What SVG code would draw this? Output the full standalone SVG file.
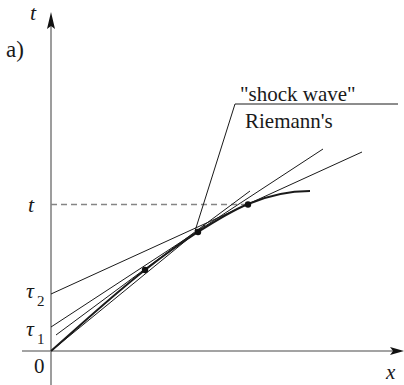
<svg xmlns="http://www.w3.org/2000/svg" width="404" height="385" viewBox="0 0 404 385">
<style>
.axis{stroke:#858585;stroke-width:1.6;fill:none}
.thin{stroke:#1a1a1a;stroke-width:1;fill:none}
.thick{stroke:#1a1a1a;stroke-width:2;fill:none}
.dash{stroke:#858585;stroke-width:1.3;stroke-dasharray:6 4;fill:none}
text{font-family:"Liberation Serif","DejaVu Serif",serif;fill:#1a1a1a}
.it{font-style:italic}
</style>
<rect width="404" height="385" fill="#fff"/>
<g id="axes">
<line class="axis" x1="51" y1="385" x2="51" y2="24"/>
<polygon points="51,12 55,29 51,26 47,29" fill="#111"/>
<line class="axis" x1="22" y1="351" x2="393" y2="351"/>
<polygon points="404,351 390,355 393,351 390,347" fill="#111"/>
</g>
<g id="connectors">
<line class="dash" x1="51" y1="204.5" x2="245" y2="204.5"/>
<line class="thin" x1="51" y1="294" x2="362" y2="152"/>
<line class="thin" x1="51" y1="327" x2="323" y2="149"/>
<line class="thin" x1="56" y1="335" x2="250" y2="191"/>
<line class="thin" x1="51" y1="351" x2="205" y2="225"/>
<polyline class="thin" points="195,231 235,104 398,104"/>
<path class="thick" d="M51,351 C82.3,323.4 113.7,294.4 145,270 C162.7,256.2 180.3,243.3 198,232 C214.7,221.3 231.3,211 248,204 C268.7,195.3 289.3,191 310,191"/>
</g>
<g id="points" fill="#111">
<circle cx="145" cy="270" r="3.2"/>
<circle cx="198" cy="232" r="3.2"/>
<circle cx="248" cy="204.5" r="3.2"/>
</g>
<g id="labels">
<text class="it" x="30" y="20" font-size="22">t</text>
<text x="6" y="57" font-size="23">a)</text>
<text x="240" y="101" font-size="21">"shock wave"</text>
<text x="245" y="128" font-size="21">Riemann's</text>
<text class="it" x="28" y="212" font-size="22">t</text>
<text class="it" x="26" y="298" font-size="22">τ</text>
<text x="37" y="306" font-size="15">2</text>
<text class="it" x="26" y="336" font-size="22">τ</text>
<text x="37" y="344" font-size="15">1</text>
<text x="34" y="373" font-size="21">0</text>
<text class="it" x="386" y="379" font-size="21">x</text>
</g>
</svg>
